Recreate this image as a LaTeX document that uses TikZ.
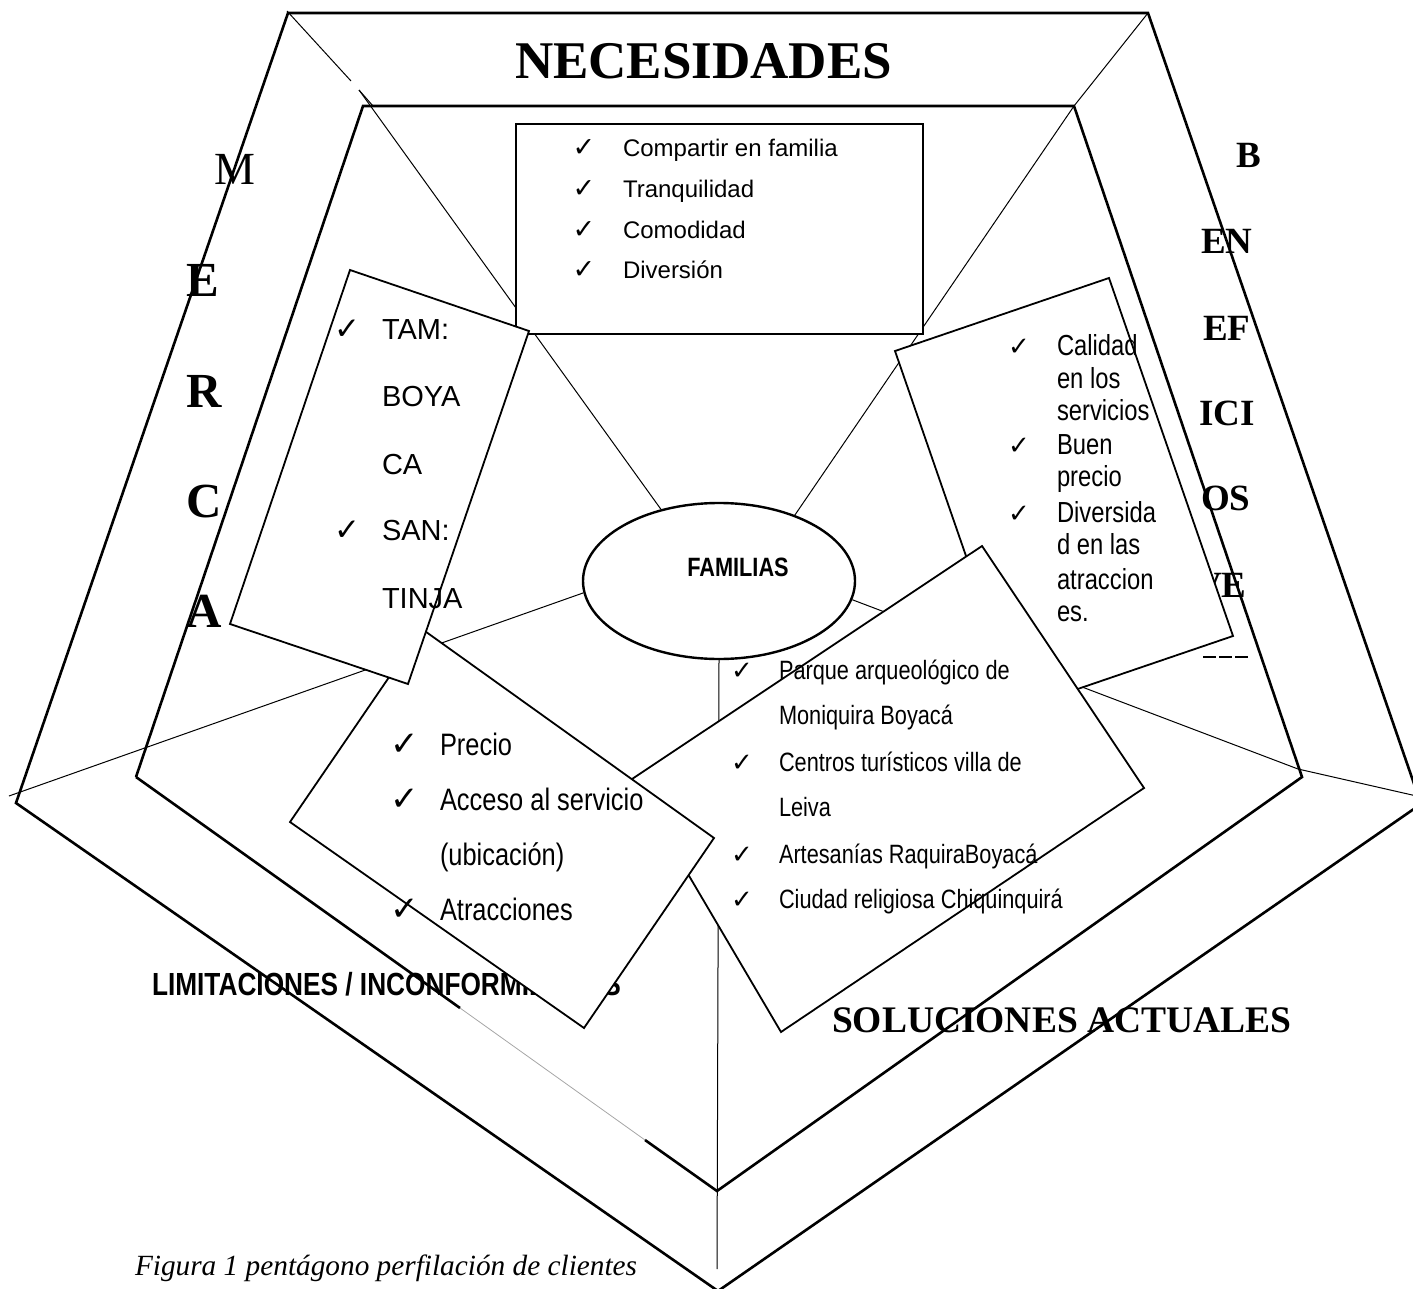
\documentclass[tikz,border=0pt]{standalone}
\usepackage{fontspec}
\setmainfont{Liberation Serif}
\newfontfamily\arialf{Liberation Sans}
\newfontfamily\narrowf[FakeStretch=0.82]{Liberation Sans}
\newfontfamily\symf{DejaVu Sans}
\usetikzlibrary{shapes.geometric}
\newcommand{\fsz}[1]{\fontsize{#1}{#1}\selectfont}
\newcommand{\chk}{✓}
\begin{document}
\begin{tikzpicture}[x=1pt,y=-1pt,
  edgest/.style={line width=2.6pt,line join=miter},
  spoke/.style={line width=1pt},
  faint/.style={line width=0.8pt,black!35},
  boxst/.style={draw,line width=1.8pt,fill=white,line join=miter},
  famst/.style={ellipse,draw,line width=2.4pt,fill=white,minimum width=272pt,minimum height=156pt,inner sep=0pt},
  txt/.style={anchor=base west,inner sep=0pt,outer sep=0pt},
  chkst/.style={anchor=base,inner sep=0pt,outer sep=0pt},
  bigserif/.style={txt,font=\bfseries\fsz{#1}},
  necline/.style={txt,font=\arialf\fsz{24}},
  tamline/.style={txt,font=\arialf\fsz{29}},
  calline/.style={txt,font=\narrowf\fsz{29}},
  preline/.style={txt,font=\narrowf\fsz{31}},
  parline/.style={txt,font=\narrowf\fsz{26.5}},
  chksym/.style={chkst,font=\symf\fsz{#1}}
]
\useasboundingbox (0,0) rectangle (1413,1289);
\clip (0,0) rectangle (1413,1289);

% pentagon vertices
\coordinate (OA) at (288,13);
\coordinate (OB) at (1148,13);
\coordinate (OC) at (1421,804);
\coordinate (OD) at (718,1291);
\coordinate (OE) at (16,803);
\coordinate (IA) at (363,106);
\coordinate (IB) at (1074,106);
\coordinate (IC) at (1302,777);
\coordinate (ID) at (717,1191);
\coordinate (IE) at (136,777);
\coordinate (ig1) at (460,1008);
\coordinate (ig2) at (645,1140);
% spoke points
\coordinate (s1o) at (287,11);
\coordinate (s1m) at (351,81);
\coordinate (s1i) at (359,90);
\coordinate (s1x) at (373,106);
\coordinate (rs1) at (1298,769);
\coordinate (rs2) at (1421,797);
\coordinate (bs) at (717,1269);
\coordinate (ls) at (9,796);

% texts lying under the boxes
\node[bigserif=53] (nec) at (515,79) {NECESIDADES};
\node[txt,font=\fsz{46}] (m1) at (214,185) {M};
\node[bigserif=49] (m2) at (186,297) {E};
\node[bigserif=49] (m3) at (186,407) {R};
\node[bigserif=49] (m4) at (186,517) {C};
\node[bigserif=49] (m5) at (186,627) {A};
\node[bigserif=37] (b1) at (1236,168) {B};
\node[bigserif=37] (b2) at (1201,254) {EN};
\node[bigserif=37] (b3) at (1203,340) {EF};
\node[bigserif=37] (b4) at (1199,425) {ICI};
\node[bigserif=37] (b5) at (1201,510) {OS};
\node[bigserif=37] (b6) at (1195,597) {VE};
\coordinate (dsh1) at (1203,657);
\coordinate (dsh2) at (1248,657);
\draw[line width=1.2pt,dash pattern=on 13pt off 3pt] (dsh1) -- (dsh2);
\node[txt,font=\narrowf\bfseries\fsz{32}] (lim) at (152,995) {LIMITACIONES / INCONFORMIDADES};
\node[bigserif=37.5] (sol) at (832,1032) {SOLUCIONES ACTUALES};
\node[txt,font=\itshape\fsz{29.3}] (cap) at (135,1275) {Figura 1 pentágono perfilación de clientes};

% central ellipse and spokes
\node[famst] (fam) at (719,581) {};
\draw[spoke] (s1o) -- (s1m);
\draw[spoke] (s1i) -- (fam.129);
\draw[spoke] (s1i) -- (s1x);
\draw[spoke] (OB) -- (IB) -- (fam.41);
\draw[spoke] (fam.352) -- (rs1) -- (rs2);
\draw[spoke] (fam.270) -- (bs);
\draw[spoke] (fam.185) -- (ls);

% pentagons
\draw[edgest] (OA) -- (OB) -- (OC) -- (OD) -- (OE) -- cycle;
\draw[edgest] (IE) -- (IA) -- (IB) -- (IC) -- (ID) -- (ig2);
\draw[edgest] (IE) -- (ig1);
\draw[faint] (ig1) -- (ig2);

% boxes
\coordinate (NA) at (516,124);
\coordinate (NB) at (923,124);
\coordinate (NC) at (923,334);
\coordinate (ND) at (516,334);
\draw[boxst] (NA) -- (NB) -- (NC) -- (ND) -- cycle;

\coordinate (CA) at (895,351);
\coordinate (CB) at (1109,278);
\coordinate (CC) at (1233,636);
\coordinate (CD) at (1019,709);
\draw[boxst] (CA) -- (CB) -- (CC) -- (CD) -- cycle;

\coordinate (PA) at (632,779);
\coordinate (PB) at (982,546);
\coordinate (PC) at (1144,788);
\coordinate (PD) at (781,1032);
\draw[boxst] (PA) -- (PB) -- (PC) -- (PD) -- cycle;

\coordinate (RA) at (422,629);
\coordinate (RB) at (714,838);
\coordinate (RC) at (584,1028);
\coordinate (RD) at (290,822);
\draw[boxst] (RA) -- (RB) -- (RC) -- (RD) -- cycle;

\coordinate (TA) at (350,270);
\coordinate (TB) at (529,331);
\coordinate (TC) at (408,684);
\coordinate (TD) at (230,624);
\draw[boxst] (TA) -- (TB) -- (TC) -- (TD) -- cycle;

% ellipse label
\node[chkst,font=\narrowf\bfseries\fsz{26.5}] (famtxt) at (738,576) {FAMILIAS};

% necesidades list
\node[chksym=27] (nk1) at (584,157) {\chk};
\node[chksym=27] (nk2) at (584,198) {\chk};
\node[chksym=27] (nk3) at (584,239) {\chk};
\node[chksym=27] (nk4) at (584,279) {\chk};
\node[necline] (n1) at (623,157) {Compartir en familia};
\node[necline] (n2) at (623,198) {Tranquilidad};
\node[necline] (n3) at (623,239) {Comodidad};
\node[necline] (n4) at (623,279) {Diversión};

% mercado list
\node[chksym=31] (tk1) at (347,339) {\chk};
\node[chksym=31] (tk2) at (347,540) {\chk};
\node[tamline] (t1) at (382,339) {TAM:};
\node[tamline] (t2) at (382,406) {BOYA};
\node[tamline] (t3) at (382,474) {CA};
\node[tamline] (t4) at (382,540) {SAN:};
\node[tamline] (t5) at (382,608) {TINJA};

% beneficios list
\node[chksym=26] (ck1) at (1019,355) {\chk};
\node[chksym=26] (ck2) at (1019,454) {\chk};
\node[chksym=26] (ck3) at (1019,522) {\chk};
\node[calline] (c1) at (1057,355) {Calidad};
\node[calline] (c2) at (1057,388) {en los};
\node[calline] (c3) at (1057,420) {servicios};
\node[calline] (c4) at (1057,454) {Buen};
\node[calline] (c5) at (1057,486) {precio};
\node[calline] (c6) at (1057,522) {Diversida};
\node[calline] (c7) at (1057,554) {d en las};
\node[calline] (c8) at (1057,589) {atraccion};
\node[calline] (c9) at (1057,621) {es.};

% limitaciones list
\node[chksym=34] (rk1) at (405,755) {\chk};
\node[chksym=34] (rk2) at (405,810) {\chk};
\node[chksym=34] (rk3) at (405,920) {\chk};
\node[preline] (r1) at (440,755) {Precio};
\node[preline] (r2) at (440,810) {Acceso al servicio};
\node[preline] (r3) at (440,865) {(ubicación)};
\node[preline] (r4) at (440,920) {Atracciones};

% soluciones list
\node[chksym=26] (pk1) at (742,679) {\chk};
\node[chksym=26] (pk2) at (742,771) {\chk};
\node[chksym=26] (pk3) at (742,863) {\chk};
\node[chksym=26] (pk4) at (742,908) {\chk};
\node[parline] (p1) at (779,679) {Parque arqueológico de};
\node[parline] (p2) at (779,724) {Moniquira Boyacá};
\node[parline] (p3) at (779,771) {Centros turísticos villa de};
\node[parline] (p4) at (779,816) {Leiva};
\node[parline] (p5) at (779,863) {Artesanías RaquiraBoyacá};
\node[parline] (p6) at (779,908) {Ciudad religiosa Chiquinquirá};
\end{tikzpicture}
\end{document}
